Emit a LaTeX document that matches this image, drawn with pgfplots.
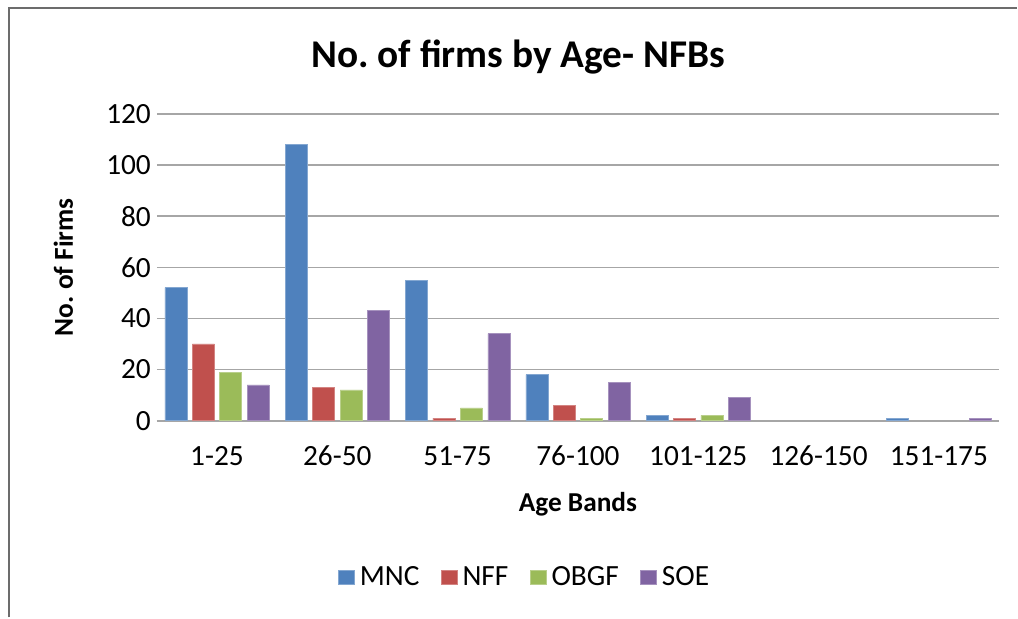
\documentclass[border=0pt]{standalone}
\usepackage{fontspec}
\setmainfont{Carlito}
\usepackage{pgfplots}
\pgfplotsset{compat=1.18}
\frenchspacing

\definecolor{mnc}{HTML}{4F81BD}
\definecolor{nff}{HTML}{C0504D}
\definecolor{obgf}{HTML}{9BBB59}
\definecolor{soe}{HTML}{8064A2}
\definecolor{gridc}{HTML}{A6A6A6}

\begin{document}
\begin{tikzpicture}
% page = 1018 x 618 px at 0.75pt per px
\path (0,0) rectangle (763.5pt,463.5pt);
\draw[gray!85!black, line width=1.5pt] (6.75pt,0) -- (6.75pt,457.5pt) -- (763.5pt,457.5pt);
\node[font=\fontsize{29.5}{31}\selectfont\bfseries] at (389pt,421pt) {No. of firms by Age- NFBs};
\begin{axis}[
    at={(117.75pt,147.75pt)}, anchor=south west,
    scale only axis, width=632.25pt, height=230.25pt,
    xmin=-0.5, xmax=6.5, ymin=0, ymax=120,
    ybar, bar width=0.183,
    xtick={0,...,6},
    xticklabels={1-25,26-50,51-75,76-100,101-125,126-150,151-175},
    ytick={0,20,...,120},
    axis lines*=left,
    y axis line style={draw=none},
    x axis line style={gridc, line width=1.5pt, -},
    major tick length=0pt,
    ymajorgrids, grid style={gridc, line width=1pt},
    tick label style={font=\fontsize{22}{24}\selectfont},
    /pgf/number format/assume math mode=true,
    xticklabel style={anchor=base, yshift=-34pt},
    yticklabel style={xshift=-1pt},
    xlabel={\bfseries Age Bands}, ylabel={\bfseries No. of Firms},
    label style={font=\fontsize{20.5}{22}\selectfont},
    xlabel style={yshift=-13pt},
    ylabel style={yshift=18pt},
    legend columns=4,
    legend style={draw=none, at={(0.437,-0.511)}, anchor=center,
        font=\fontsize{22}{24}\selectfont,
        /tikz/every odd column/.append style={column sep=2pt},
        /tikz/every even column/.append style={column sep=14pt}},
    legend image code/.code={\fill[#1] (0pt,-5.5pt) rectangle (12pt,5.5pt);},
]
\addplot[fill=mnc, draw=mnc!70!white, bar shift=-0.342] coordinates
  {(0,52) (1,108) (2,55) (3,18) (4,2) (6,1)};
\addlegendentry{MNC}
\addplot[fill=nff, draw=nff!70!white, bar shift=-0.114] coordinates
  {(0,30) (1,13) (2,1) (3,6) (4,1)};
\addlegendentry{NFF}
\addplot[fill=obgf, draw=obgf!70!white, bar shift=0.114] coordinates
  {(0,19) (1,12) (2,5) (3,1) (4,2)};
\addlegendentry{OBGF}
\addplot[fill=soe, draw=soe!70!white, bar shift=0.342] coordinates
  {(0,14) (1,43) (2,34) (3,15) (4,9) (6,1)};
\addlegendentry{SOE}
\end{axis}
\end{tikzpicture}
\end{document}
